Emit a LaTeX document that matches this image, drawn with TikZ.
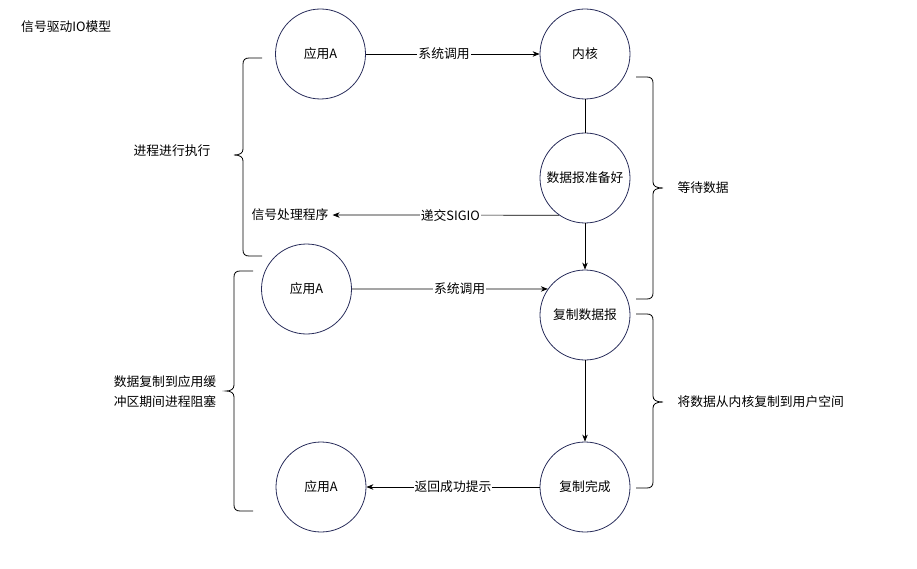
\documentclass[tikz,border=0pt]{standalone}
\usepackage{fontspec}
\setmainfont{Noto Sans CJK SC}
\usetikzlibrary{arrows.meta}

\definecolor{ringcol}{RGB}{40,44,90}

\begin{document}
\begin{tikzpicture}[>={Stealth[length=7pt, width=5.5pt]}, x=1pt, y=-1pt,
    every node/.style={font=\fontsize{12.8}{20}\selectfont},
    proc/.style={circle, draw=ringcol, line width=0.8pt, minimum size=90pt, inner sep=0pt},
    flow/.style={->, line width=0.7pt, black},
    lbl/.style={fill=white, inner sep=1pt},
    bracket/.style={line width=0.8pt, black}]

    \useasboundingbox (0,0) rectangle (917,569);

    % ── Title ────────────────────────────────────────────────────────────────
    \node[anchor=west, inner sep=0pt] (title) at (21,27) {信号驱动IO模型};

    % ── Circles ──────────────────────────────────────────────────────────────
    \node[proc] (appA)   at (320.5,54) {应用A};
    \node[proc] (kernel) at (585,54)   {内核};
    \node[proc] (ready)  at (585,178)  {数据报准备好};
    \node[proc] (appB)   at (306.5,289) {应用A};
    \node[proc] (copy)   at (585,315)  {复制数据报};
    \node[proc] (done)   at (585,487)  {复制完成};
    \node[proc] (appC)   at (321,487)  {应用A};

    % signal handler, plain text
    \node[inner sep=4pt] (handler) at (290,215) {信号处理程序};

    % ── Connectors ───────────────────────────────────────────────────────────
    \draw[flow] (appA) -- node[lbl, pos=0.45] {系统调用} (kernel);
    \draw[line width=0.7pt] (kernel) -- (ready);
    \draw[flow] (ready.235) -- node[lbl, pos=0.48] {递交SIGIO} (handler);
    \draw[flow] (ready) -- (copy);
    \draw[flow] (appB.east) -- node[lbl, pos=0.55] {系统调用} (copy.145);
    \draw[flow] (copy) -- (done);
    \draw[flow] (done) -- node[lbl] {返回成功提示} (appC);

    % ── Left brackets ────────────────────────────────────────────────────────
    \draw[bracket] (262,58) -- (249,58) .. controls (245,58) and (243,60) .. (243,64)
        -- (243,149) .. controls (243,153) and (240,155) .. (234,155)
        .. controls (240,155) and (243,157) .. (243,161)
        -- (243,250) .. controls (243,254) and (245,256) .. (249,256) -- (262,256);
    \node (runlbl) at (172,151) {进程进行执行};

    \draw[bracket] (253,271) -- (240,271) .. controls (236,271) and (234,273) .. (234,277)
        -- (234,385) .. controls (234,389) and (231,391) .. (226,391)
        .. controls (231,391) and (234,393) .. (234,397)
        -- (234,505) .. controls (234,509) and (236,511) .. (240,511) -- (253,511);
    \node[align=left] (blocklbl) at (165,392) {数据复制到应用缓\\冲区期间进程阻塞};

    % ── Right brackets ───────────────────────────────────────────────────────
    \draw[bracket] (636,77) -- (647,77) .. controls (651,77) and (653,79) .. (653,83)
        -- (653,182) .. controls (653,186) and (656,188) .. (663,188)
        .. controls (656,188) and (653,190) .. (653,194)
        -- (653,293) .. controls (653,297) and (651,299) .. (647,299) -- (636,299);
    \node[anchor=west] (waitlbl) at (674,188) {等待数据};

    \draw[bracket] (636,314) -- (647,314) .. controls (651,314) and (653,316) .. (653,320)
        -- (653,396) .. controls (653,400) and (656,402) .. (663,402)
        .. controls (656,402) and (653,404) .. (653,408)
        -- (653,482) .. controls (653,486) and (651,488) .. (647,488) -- (636,488);
    \node[anchor=west] (copylbl) at (674,402) {将数据从内核复制到用户空间};

\end{tikzpicture}
\end{document}
